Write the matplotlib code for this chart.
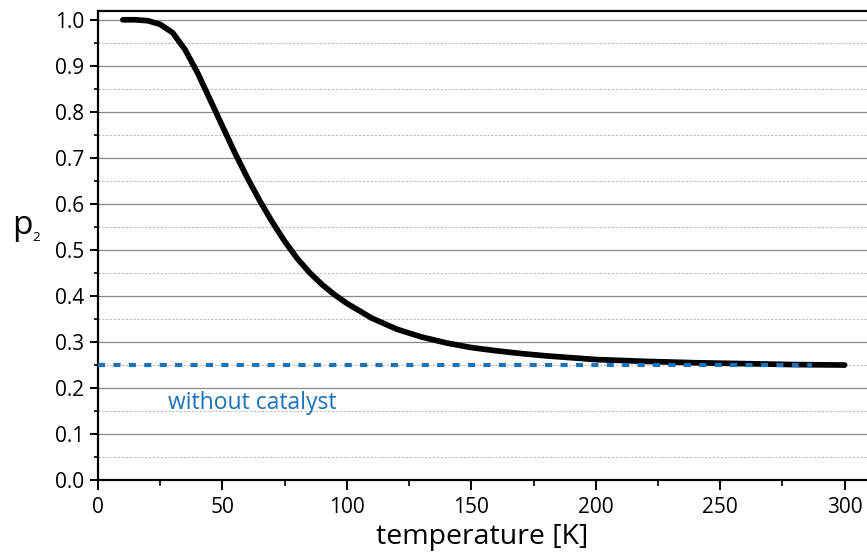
import matplotlib.pyplot as plt
from matplotlib.ticker import MultipleLocator

plt.rcParams['font.family'] = ['Open Sans', 'DejaVu Sans']

# p2 vs temperature, read point by point
temperature = [10, 15, 20, 25, 30, 35, 40, 45, 50, 55, 60, 65, 70, 75, 80, 85, 90,
               95, 100, 110, 120, 130, 140, 150, 160, 170, 180, 190, 200, 220, 240,
               260, 280, 300]
p2 = [1.000, 1.000, 0.998, 0.990, 0.972, 0.935, 0.885, 0.827, 0.769, 0.711, 0.657,
      0.607, 0.561, 0.519, 0.482, 0.451, 0.425, 0.403, 0.384, 0.352, 0.328, 0.311,
      0.298, 0.288, 0.281, 0.275, 0.270, 0.266, 0.262, 0.258, 0.255, 0.253, 0.251,
      0.250]

baseline_x = [0, 287]
baseline_y = [0.25, 0.25]
baseline_label = "without catalyst"

fig = plt.figure(figsize=(8.67, 5.57), dpi=100)
ax = fig.add_axes([0.113, 0.138, 0.887, 0.843])

ax.plot(temperature, p2, color='black', lw=4.1, solid_capstyle='round',
        solid_joinstyle='round', zorder=3)
ax.plot(baseline_x, baseline_y, color='#1a73b9', lw=3.0, dashes=(1.7, 2.0), zorder=4)
ax.text(28, 0.167, baseline_label, color='#1a73b9', fontsize=16.5, va='center', ha='left')

ax.set_xlim(0, 309)
ax.set_ylim(0, 1.02)
ax.xaxis.set_major_locator(MultipleLocator(50))
ax.xaxis.set_minor_locator(MultipleLocator(25))
ax.yaxis.set_major_locator(MultipleLocator(0.1))
ax.yaxis.set_minor_locator(MultipleLocator(0.05))
ax.yaxis.set_major_formatter(lambda v, pos: f"{v:.1f}")

ax.grid(axis='y', which='major', color='#8a8a8a', lw=0.9, ls='-')
ax.grid(axis='y', which='minor', color='#bdbdbd', lw=0.8, ls=(0, (2, 1.5)))
ax.set_axisbelow(True)

ax.spines['right'].set_visible(False)
for side in ['left', 'bottom', 'top']:
    ax.spines[side].set_linewidth(1.6)

ax.tick_params(which='major', direction='out', width=1.4, labelsize=15, colors='black')
ax.tick_params(which='minor', direction='out', width=1.2)
ax.tick_params(axis='y', which='major', length=6, pad=4)
ax.tick_params(axis='y', which='minor', length=3)
ax.tick_params(axis='x', which='major', length=7, pad=5)
ax.tick_params(axis='x', which='minor', length=4.5)

ax.set_xlabel("temperature [K]", fontsize=20.5, labelpad=4)

# y label: p with a small subscript 2
fig.text(12 / 867, 1 - 234 / 557, "p", fontsize=24, ha='left', va='baseline')
fig.text(32 / 867, 1 - 241 / 557, "2", fontsize=9.5, ha='left', va='baseline')

fig.savefig("out.png", dpi=100)
